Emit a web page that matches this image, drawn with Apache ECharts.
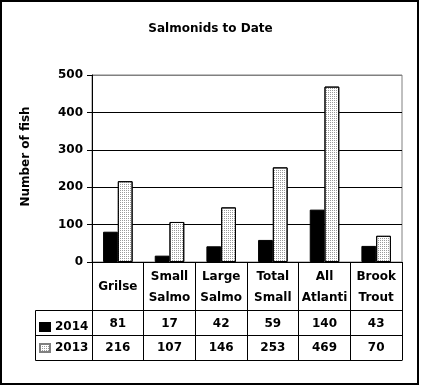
<!DOCTYPE html>
<html>
<head>
<meta charset="utf-8">
<style>html,body{margin:0;padding:0;background:#fff;}#c{width:421px;height:386px;}</style>
<script src="https://cdn.jsdelivr.net/npm/echarts@6/dist/echarts.min.js"></script>
</head>
<body>
<div id="c"></div>
<script>
const categories = ['Grilse', 'Small Salmo', 'Large Salmo', 'Total Small', 'All Atlanti', 'Brook Trout'];
const values2014 = [81, 17, 42, 59, 140, 43];
const values2013 = [216, 107, 146, 253, 469, 70];
const seriesNames = ['2014', '2013'];
const yTicks = { min: 0, max: 500, interval: 100 };

const FONT = "'DejaVu Sans', Verdana, sans-serif";
const G = { left: 92, top: 75, right: 19, bottom: 124 };
const W = 421, H = 386;
const yZero = H - G.bottom;          // 262
const catRow = 48, valRow = 25;
const rowLine1 = yZero + catRow;     // 310
const rowLine2 = rowLine1 + valRow;  // 335
const rowLine3 = rowLine2 + valRow;  // 360
const tableLeft = 35;
const plotRight = W - G.right;       // 402

const txt = { fontFamily: FONT, fontWeight: 'bold', fontSize: 12, color: '#000' };
const dots = { symbol: 'rect', symbolSize: 1, dashArrayX: [1, 1], dashArrayY: [1, 1], color: '#9a9a9a' };

const chart = echarts.init(document.getElementById('c'), null, { renderer: 'canvas' });
chart.setOption({
  animation: false,
  backgroundColor: '#fff',
  title: { text: 'Salmonids to Date', left: 'center', top: 18, textStyle: Object.assign({}, txt) },
  grid: { left: G.left, top: G.top, right: G.right, bottom: G.bottom, show: true, borderColor: '#808080', borderWidth: 1, backgroundColor: 'transparent' },
  legend: {
    orient: 'vertical', left: 39, top: 321, padding: 0, itemWidth: 10, itemHeight: 8, itemGap: 9,
    textStyle: Object.assign({}, txt), icon: 'rect',
    data: [{ name: '2014' }, { name: '2013', itemStyle: { borderColor: '#808080' } }]
  },
  xAxis: [
    {
      type: 'category', data: categories,
      axisLine: { lineStyle: { color: '#000', width: 1 } },
      axisTick: { show: true, interval: 0, length: catRow + 2 * valRow, lineStyle: { color: '#000' } },
      axisLabel: Object.assign({ interval: 0, margin: catRow / 2 + 1, verticalAlign: 'middle', lineHeight: 21,
        formatter: v => v.replace(' ', '\n') }, txt),
      splitLine: { show: false }
    },
    {
      type: 'category', data: values2014.map(String), position: 'bottom',
      axisLine: { show: false }, axisTick: { show: false },
      axisLabel: Object.assign({ interval: 0, margin: catRow + valRow / 2 + 1, verticalAlign: 'middle' }, txt)
    },
    {
      type: 'category', data: values2013.map(String), position: 'bottom',
      axisLine: { show: false }, axisTick: { show: false },
      axisLabel: Object.assign({ interval: 0, margin: catRow + valRow * 1.5, verticalAlign: 'middle' }, txt)
    }
  ],
  yAxis: {
    type: 'value', min: yTicks.min, max: yTicks.max, interval: yTicks.interval,
    name: 'Number of fish', nameLocation: 'middle', nameRotate: 90, nameGap: 60,
    nameTextStyle: Object.assign({ padding: [0, 0, 0, 24] }, txt),
    axisLine: { show: true, lineStyle: { color: '#000' } },
    axisTick: { show: true, length: 5, lineStyle: { color: '#000' } },
    axisLabel: Object.assign({ margin: 9 }, txt),
    splitLine: { show: true, lineStyle: { color: ['#000', '#000', '#000', '#000', '#000', '#808080'] } }
  },
  series: [
    { name: seriesNames[0], type: 'bar', data: values2014, barGap: '0%', barCategoryGap: '42.86%',
      itemStyle: { color: '#000', borderColor: '#000', borderWidth: 1 } },
    { name: seriesNames[1], type: 'bar', data: values2013, barGap: '0%', barCategoryGap: '42.86%',
      itemStyle: { color: '#fff', borderColor: '#000', borderWidth: 1, decal: dots } }
  ],
  graphic: [
    { type: 'rect', shape: { x: 1, y: 1, width: W - 4, height: H - 3 }, style: { fill: 'none', stroke: '#000', lineWidth: 2 }, silent: true },
    { type: 'line', shape: { x1: tableLeft + 0.5, y1: rowLine1 + 0.5, x2: plotRight + 0.5, y2: rowLine1 + 0.5 }, style: { stroke: '#000', lineWidth: 1 } },
    { type: 'line', shape: { x1: tableLeft + 0.5, y1: rowLine2 + 0.5, x2: plotRight + 0.5, y2: rowLine2 + 0.5 }, style: { stroke: '#000', lineWidth: 1 } },
    { type: 'line', shape: { x1: tableLeft + 0.5, y1: rowLine3 + 0.5, x2: plotRight + 0.5, y2: rowLine3 + 0.5 }, style: { stroke: '#000', lineWidth: 1 } },
    { type: 'line', shape: { x1: tableLeft + 0.5, y1: rowLine1 + 0.5, x2: tableLeft + 0.5, y2: rowLine3 + 0.5 }, style: { stroke: '#000', lineWidth: 1 } }
  ]
});
</script>
</body>
</html>
